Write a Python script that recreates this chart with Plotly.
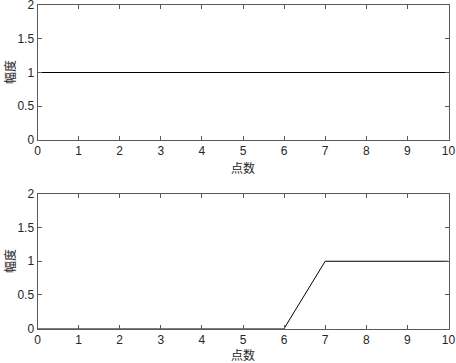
import plotly.graph_objects as go
from plotly.subplots import make_subplots

x_points = [0, 1, 2, 3, 4, 5, 6, 7, 8, 9, 10]
top_values = [1, 1, 1, 1, 1, 1, 1, 1, 1, 1, 1]
bottom_values = [0, 0, 0, 0, 0, 0, 0, 1, 1, 1, 1]
x_ticks = [0, 1, 2, 3, 4, 5, 6, 7, 8, 9, 10]
y_ticks = [0, 0.5, 1, 1.5, 2]
y_tick_labels = ["0", "0.5", "1", "1.5", "2"]
x_title = "点数"
y_title = "幅度"

W, H = 456, 363
fig = make_subplots(rows=2, cols=1)

fig.add_trace(go.Scatter(x=x_points, y=top_values, mode="lines",
                         line=dict(color="black", width=1)), row=1, col=1)
fig.add_trace(go.Scatter(x=x_points, y=bottom_values, mode="lines",
                         line=dict(color="black", width=1)), row=2, col=1)

xdom = [37.5 / W, 448.5 / W]
ydom_top = [1 - 140 / H, 1 - 5 / H]
ydom_bot = [1 - 328.5 / H, 1 - 194 / H]

axis_color = "#5a5a5a"
tickfont = dict(family="Liberation Sans, Arial", size=12, color="#262626")
common_x = dict(range=[0, 10], tickvals=x_ticks, ticks="inside", ticklen=4,
                tickcolor=axis_color, showline=True, linecolor=axis_color,
                linewidth=1, mirror="ticks", showgrid=False, zeroline=False,
                tickfont=tickfont, domain=xdom, automargin=False,
                ticklabeloverflow="allow")
common_y = dict(range=[0, 2], tickvals=y_ticks, ticktext=y_tick_labels,
                ticks="inside", ticklen=4, tickcolor=axis_color, showline=True,
                linecolor=axis_color, linewidth=1, mirror="ticks",
                showgrid=False, zeroline=False, tickfont=tickfont,
                automargin=False, ticklabeloverflow="allow")

fig.update_xaxes(**common_x, row=1, col=1)
fig.update_xaxes(**common_x, row=2, col=1)
fig.update_yaxes(**common_y, domain=ydom_top, row=1, col=1)
fig.update_yaxes(**common_y, domain=ydom_bot, row=2, col=1)

cjk = dict(family="Noto Sans CJK SC", size=12, color="#262626")
for yc_title_x, yc_title_y in [(167, 72), (354, 261)]:
    fig.add_annotation(text=x_title, xref="paper", yref="paper",
                       x=(37.5 + 448.5) / 2 / W, y=1 - yc_title_x / H,
                       showarrow=False, font=cjk, xanchor="center", yanchor="middle")
    fig.add_annotation(text=y_title, xref="paper", yref="paper",
                       x=9 / W, y=1 - yc_title_y / H, textangle=-90,
                       showarrow=False, font=cjk, xanchor="center", yanchor="middle")

fig.update_layout(width=W, height=H, margin=dict(l=0, r=0, t=0, b=0, autoexpand=False),
                  paper_bgcolor="white", plot_bgcolor="white", showlegend=False)

fig.write_html("out.html", config={"displayModeBar": False},
               post_script="document.body.style.margin='0';document.body.style.overflow='hidden';")
